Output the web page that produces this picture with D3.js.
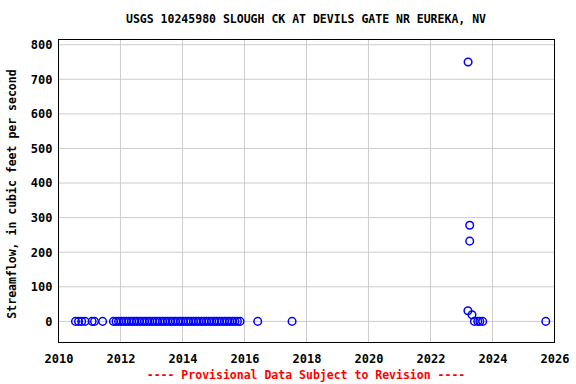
<!DOCTYPE html>
<html>
<head>
<meta charset="utf-8">
<script src="https://cdn.jsdelivr.net/npm/d3@7"></script>
<style>
  body { margin: 0; background: #fff; }
  text { font-family: "DejaVu Sans Mono", "Liberation Mono", monospace; font-weight: bold; }
</style>
</head>
<body>
<script>
// observation dates and streamflow (cfs)
var obsDates = [
    "2010-07-20", "2010-08-25", "2010-10-01", "2010-11-10",
    "2011-02-01", "2011-03-01", "2011-06-05",
    "2011-10-10", "2011-11-10", "2011-12-10", "2012-01-10", "2012-02-10", "2012-03-10",
    "2012-04-10", "2012-05-10", "2012-06-10", "2012-07-10", "2012-08-10", "2012-09-10",
    "2012-10-10", "2012-11-10", "2012-12-10", "2013-01-10", "2013-02-10", "2013-03-10",
    "2013-04-10", "2013-05-10", "2013-06-10", "2013-07-10", "2013-08-10", "2013-09-10",
    "2013-10-10", "2013-11-10", "2013-12-10", "2014-01-10", "2014-02-10", "2014-03-10",
    "2014-04-10", "2014-05-10", "2014-06-10", "2014-07-10", "2014-08-10", "2014-09-10",
    "2014-10-10", "2014-11-10", "2014-12-10", "2015-01-10", "2015-02-10", "2015-03-10",
    "2015-04-10", "2015-05-10", "2015-06-10", "2015-07-10", "2015-08-10", "2015-09-10",
    "2015-10-10", "2015-11-10",
    "2016-06-05", "2017-07-15",
    "2023-03-20", "2023-04-08", "2023-04-08", "2023-03-18", "2023-05-05",
    "2023-06-02", "2023-07-12", "2023-08-05", "2023-09-08",
    "2025-09-20"
];
var flows = [
    0, 0, 0, 0,
    0, 0, 0,
    0, 0, 0, 0, 0, 0,
    0, 0, 0, 0, 0, 0,
    0, 0, 0, 0, 0, 0,
    0, 0, 0, 0, 0, 0,
    0, 0, 0, 0, 0, 0,
    0, 0, 0, 0, 0, 0,
    0, 0, 0, 0, 0, 0,
    0, 0, 0, 0, 0, 0,
    0, 0,
    0, 0,
    750, 278, 232, 31, 19,
    0, 0, 0, 0,
    0
];
var yTicks = [0, 100, 200, 300, 400, 500, 600, 700, 800];
var xTickYears = [2010, 2012, 2014, 2016, 2018, 2020, 2022, 2024, 2026];

var svgWidth = 576;
var svgHeight = 384;
var margin = { top: 39.5, right: 21.5, bottom: 41.5, left: 58.5 };
var width = svgWidth - margin.left - margin.right;
var height = svgHeight - margin.top - margin.bottom;

var parseDate = d3.timeParse("%Y-%m-%d");
var points = obsDates.map(function (d, i) {
    return { date: parseDate(d), flow: flows[i] };
});

var svg = d3.select("body")
    .append("svg")
    .attr("width", svgWidth)
    .attr("height", svgHeight);

var chartGroup = svg.append("g")
    .attr("transform", `translate(${margin.left}, ${margin.top})`);

var xScale = d3.scaleTime()
    .domain([new Date(2010, 0, 1), new Date(2026, 0, 1)])
    .range([0, width]);
var yScale = d3.scaleLinear()
    .domain([-61, 815])
    .range([height, 0]);

var xTicks = xTickYears.map(function (y) { return new Date(y, 0, 1); });

// grid
chartGroup.append("g")
    .selectAll("line")
    .data(xTicks.slice(1, -1))
    .enter()
    .append("line")
    .attr("x1", d => xScale(d))
    .attr("x2", d => xScale(d))
    .attr("y1", 0)
    .attr("y2", height)
    .attr("stroke", "#cccccc");

chartGroup.append("g")
    .selectAll("line")
    .data(yTicks)
    .enter()
    .append("line")
    .attr("x1", 0)
    .attr("x2", width)
    .attr("y1", d => yScale(d))
    .attr("y2", d => yScale(d))
    .attr("stroke", "#cccccc");

// axes
var bottomAxis = d3.axisBottom(xScale)
    .tickValues(xTicks)
    .tickFormat(d3.timeFormat("%Y"))
    .tickSize(0)
    .tickPadding(12);
var leftAxis = d3.axisLeft(yScale)
    .tickValues(yTicks)
    .tickSize(0)
    .tickPadding(6);

chartGroup.append("g")
    .attr("transform", `translate(0, ${height})`)
    .call(bottomAxis)
    .call(g => g.select(".domain").remove())
    .selectAll("text")
    .style("font-size", "12px")
    .attr("fill", "#000");

chartGroup.append("g")
    .call(leftAxis)
    .call(g => g.select(".domain").remove())
    .selectAll("text")
    .style("font-size", "12px")
    .attr("fill", "#000");

// frame
chartGroup.append("rect")
    .attr("width", width)
    .attr("height", height)
    .attr("fill", "none")
    .attr("stroke", "#000")
    .attr("stroke-width", 1);

// points
chartGroup.append("g")
    .selectAll("circle")
    .data(points)
    .enter()
    .append("circle")
    .attr("cx", d => xScale(d.date))
    .attr("cy", d => yScale(d.flow))
    .attr("r", 3.8)
    .attr("fill", "none")
    .attr("stroke", "#0000ff")
    .attr("stroke-width", 1.5);

// titles
svg.append("text")
    .attr("x", 306)
    .attr("y", 23)
    .attr("text-anchor", "middle")
    .style("font-size", "11.5px")
    .text("USGS 10245980 SLOUGH CK AT DEVILS GATE NR EUREKA, NV");

svg.append("text")
    .attr("transform", "rotate(-90)")
    .attr("x", -(margin.top + height / 2) - 3)
    .attr("y", 16)
    .attr("text-anchor", "middle")
    .style("font-size", "11.5px")
    .text("Streamflow, in cubic feet per second");

svg.append("text")
    .attr("x", 306)
    .attr("y", 379)
    .attr("text-anchor", "middle")
    .attr("fill", "#ff0000")
    .style("font-size", "11.5px")
    .text("---- Provisional Data Subject to Revision ----");
</script>
</body>
</html>
